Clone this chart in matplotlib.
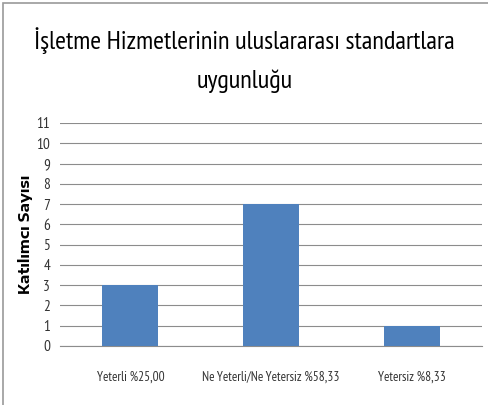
import numpy as np
import matplotlib.pyplot as plt
from matplotlib.patches import Rectangle

# Katılımcı dağılımı
kategoriler = ["Yeterli %25,00", "Ne Yeterli/Ne Yetersiz %58,33", "Yetersiz %8,33"]
sayilar = [3, 7, 1]
y_ticks = list(range(0, 12))

plt.rcParams['font.family'] = ['PT Sans Narrow', 'DejaVu Sans']

fig = plt.figure(figsize=(4.89, 4.05), dpi=100)
ax = fig.add_axes([0.1227, 0.1457, 0.863, 0.5506])

x = np.arange(len(kategoriler))
ax.bar(x, sayilar, width=0.4, color="#4F81BD", zorder=3)

ax.set_xlim(-0.5, len(kategoriler) - 0.5)
ax.set_ylim(0, 11)
ax.set_yticks(y_ticks)
ax.set_xticks(x)
ax.set_xticklabels(kategoriler, fontsize=9.5, color="#333333")
ax.tick_params(axis="y", labelsize=11, length=0, pad=7, colors="#333333")
ax.tick_params(axis="x", length=0, pad=18)
ax.grid(axis="y", color="#8c8c8c", linewidth=0.8, zorder=0)

for s in ["top", "right", "left"]:
    ax.spines[s].set_visible(False)
ax.spines["bottom"].set_color("#8c8c8c")

# eksen başlığı
fig.text(25.5 / 489, 1 - 234 / 405, "Katılımcı Sayısı", rotation=90,
         ha="center", va="center", fontsize=10.6, fontweight="bold",
         family=["Encode Sans Expanded", "DejaVu Sans"])

fig.text(0.5, 1 - 49 / 405, "İşletme Hizmetlerinin uluslararası standartlara",
         ha="center", va="baseline", fontsize=19)
fig.text(0.5, 1 - 88 / 405, "uygunluğu", ha="center", va="baseline", fontsize=19)

# dış çerçeve
fig.patches.append(Rectangle((0.006, -0.01), 1.1, 1.002, transform=fig.transFigure,
                             fill=False, edgecolor="#9a9a9a", linewidth=1.2))

fig.savefig("out.png", dpi=100)
